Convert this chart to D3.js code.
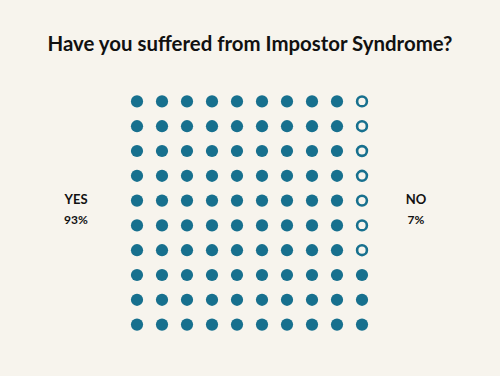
<!DOCTYPE html>
<html><head><meta charset="utf-8">
<script src="https://cdn.jsdelivr.net/npm/d3@7/dist/d3.min.js"></script>
<style>html,body{margin:0;padding:0;background:#f7f4ed;}svg{display:block;}</style>
</head><body>
<script>
const title = "Have you suffered from Impostor Syndrome?";
const categories = ["YES", "NO"];
const percents = [93, 7];
const gridCols = 10, gridRows = 10;

const W = 500, H = 376;
const teal = "#17708e";
const svg = d3.select("body").append("svg").attr("width", W).attr("height", H);
svg.append("rect").attr("width", W).attr("height", H).attr("fill", "#f7f4ed");

svg.append("text").attr("x", 250).attr("y", 51).attr("text-anchor", "middle")
  .attr("font-family", "Lato, 'Open Sans', sans-serif").attr("font-weight", 700)
  .attr("font-size", 20.4).attr("fill", "#111").text(title);

const x = d3.scaleBand().domain(d3.range(gridCols)).range([124.5, 374.5]).paddingInner(0);
const y = d3.scaleBand().domain(d3.range(gridRows)).range([89, 337]).paddingInner(0);

// cells: filled = YES, hollow = NO (last column, first 7 rows)
const cells = [];
for (let r = 0; r < gridRows; r++) for (let c = 0; c < gridCols; c++) cells.push({r, c});
const noCells = new Set();
let k = 0;
for (let r = 0; r < gridRows && k < percents[1]; r++, k++) noCells.add(r * gridCols + (gridCols - 1));

svg.append("g").selectAll("circle").data(cells).join("circle")
  .attr("cx", d => x(d.c) + x.bandwidth() / 2)
  .attr("cy", d => y(d.r) + y.bandwidth() / 2)
  .attr("r", d => noCells.has(d.r * gridCols + d.c) ? 4.9 : 6.1)
  .attr("fill", d => noCells.has(d.r * gridCols + d.c) ? "#f7f4ed" : teal)
  .attr("stroke", d => noCells.has(d.r * gridCols + d.c) ? teal : "none")
  .attr("stroke-width", 2.6);

const labels = [
  {name: categories[0], pct: percents[0], x: 76},
  {name: categories[1], pct: percents[1], x: 416}
];
const lg = svg.append("g").attr("font-family", "Lato, 'Open Sans', sans-serif")
  .attr("font-weight", 700).attr("fill", "#111").attr("text-anchor", "middle");
labels.forEach(l => {
  lg.append("text").attr("x", l.x).attr("y", 203.5).attr("font-size", 13).text(l.name);
  lg.append("text").attr("x", l.x).attr("y", 223.5).attr("font-size", 12).text(l.pct + "%");
});
</script>
</body></html>
